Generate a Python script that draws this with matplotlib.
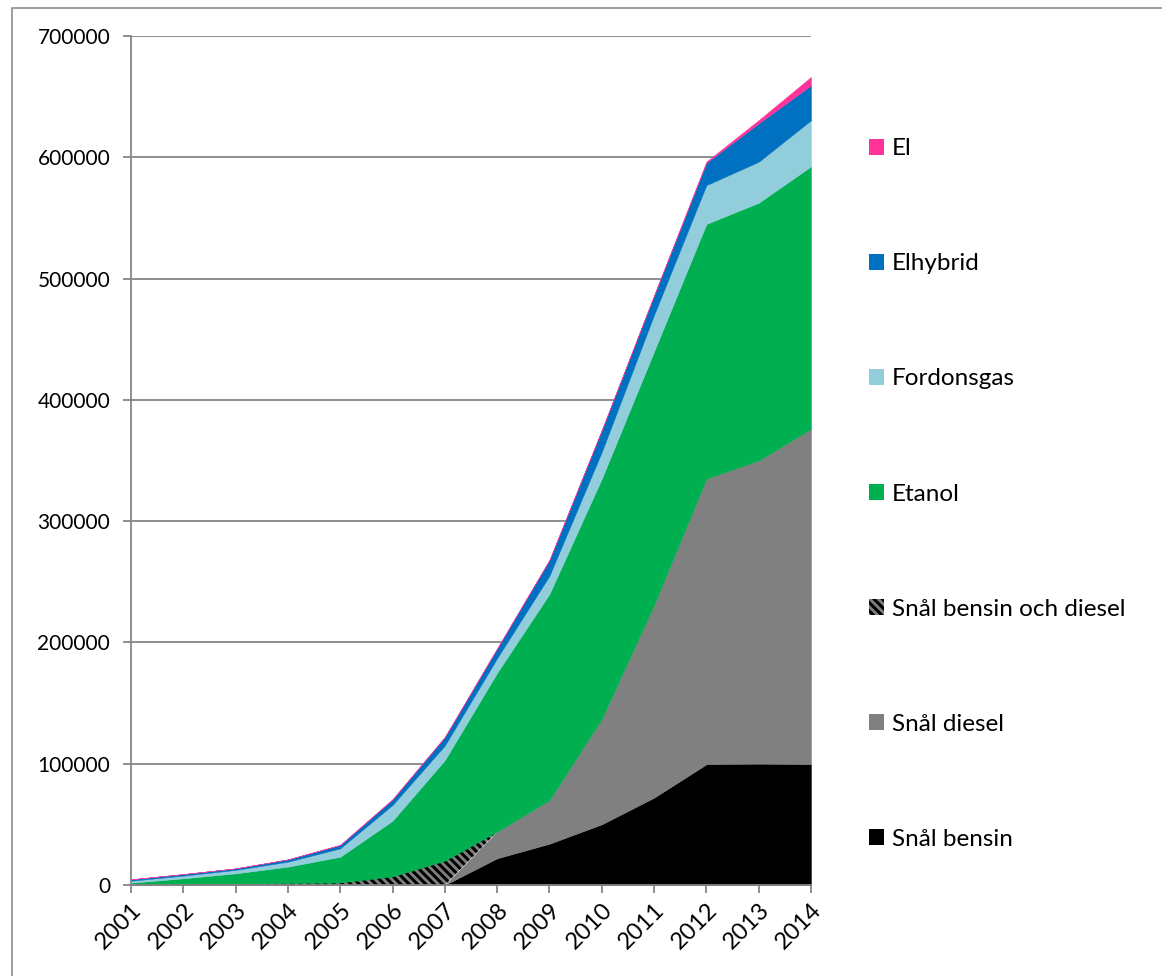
import numpy as np
import matplotlib
matplotlib.use("Agg")
import matplotlib.pyplot as plt
from matplotlib.patches import Rectangle, Patch

plt.rcParams['font.family'] = ['Lato', 'DejaVu Sans']
plt.rcParams['hatch.linewidth'] = 2.2

years = np.arange(2001, 2015)

# Fleet counts per year, bottom series first
snal_bensin = [0, 0, 0, 0, 0, 0, 0, 22000, 34000, 50000, 72000, 99500, 100000, 99500]
snal_diesel = [0, 0, 0, 0, 0, 0, 0, 22000, 36000, 87000, 159000, 235500, 250000, 276500]
snal_bensin_diesel = [0, 300, 1000, 1500, 2000, 7000, 20000, 0, 0, 0, 0, 0, 0, 0]
etanol = [1900, 5200, 8600, 13600, 21300, 46000, 83000, 131000, 170000, 198000, 209000, 210000, 212500, 216500]
fordonsgas = [1600, 2200, 2800, 4100, 6900, 13000, 12000, 12000, 15000, 22000, 30000, 32000, 33800, 38000]
elhybrid = [1200, 1300, 1300, 1900, 2800, 4600, 7000, 8000, 13000, 18000, 16000, 18500, 31700, 28800]
el = [100, 100, 100, 100, 200, 200, 200, 200, 200, 300, 400, 1000, 2700, 7000]

series = [
    ("Snål bensin", snal_bensin, "#000000", None),
    ("Snål diesel", snal_diesel, "#808080", None),
    ("Snål bensin och diesel", snal_bensin_diesel, "#7F7F7F", "\\\\\\\\"),
    ("Etanol", etanol, "#00B050", None),
    ("Fordonsgas", fordonsgas, "#92CDDC", None),
    ("Elhybrid", elhybrid, "#0070C0", None),
    ("El", el, "#FF3399", None),
]

W, H = 1162, 976
fig = plt.figure(figsize=(W / 100, H / 100), dpi=100)
ax = fig.add_axes([131 / W, (H - 885) / H, 680 / W, 849 / H])

base = np.zeros(len(years))
handles = []
for name, vals, col, hatch in series:
    top = base + np.asarray(vals, dtype=float)
    if hatch:
        ax.fill_between(years, base, top, facecolor=col, edgecolor="black",
                        hatch=hatch, linewidth=0, zorder=3)
        handles.append(Patch(facecolor=col, edgecolor="black", hatch=hatch,
                             linewidth=0, label=name))
    else:
        ax.fill_between(years, base, top, facecolor=col, edgecolor=col,
                        linewidth=0.3, zorder=3)
        handles.append(Patch(facecolor=col, edgecolor="none", label=name))
    base = top

grid_col = "#868686"
ax.set_xlim(2001, 2014)
ax.set_ylim(0, 700000)
ax.set_yticks(np.arange(0, 700001, 100000))
ax.set_yticklabels([f"{v:d}" for v in range(0, 700001, 100000)])
ax.set_xticks(years)
ax.set_xticklabels([str(y) for y in years], rotation=45, ha="right",
                   rotation_mode="anchor")
ax.yaxis.grid(True, color=grid_col, linewidth=1.3, zorder=0)
ax.set_axisbelow(True)
for s in ("top", "right"):
    ax.spines[s].set_visible(False)
for s in ("left", "bottom"):
    ax.spines[s].set_color(grid_col)
    ax.spines[s].set_linewidth(1.3)
    ax.spines[s].set_zorder(4)
ax.tick_params(axis="both", colors=grid_col, length=6, width=1.3,
               labelcolor="black")
ax.tick_params(axis="y", pad=9, labelsize=15)
ax.tick_params(axis="x", pad=4, labelsize=17)

leg = fig.legend(handles=handles[::-1], loc="center left",
                 bbox_to_anchor=(869 / W, (H - 494) / H), frameon=False,
                 fontsize=17.5, handlelength=0.63, handleheight=0.63,
                 handletextpad=0.3, labelspacing=3.87, borderpad=0,
                 borderaxespad=0)

# outer chart-area border
fig.patches.append(Rectangle((12 / W, -0.05), 1.2, (H - 8) / H + 0.05,
                             transform=fig.transFigure, fill=False,
                             edgecolor="#8C8C8C", linewidth=1.2))

fig.savefig("out.png", dpi=100)
